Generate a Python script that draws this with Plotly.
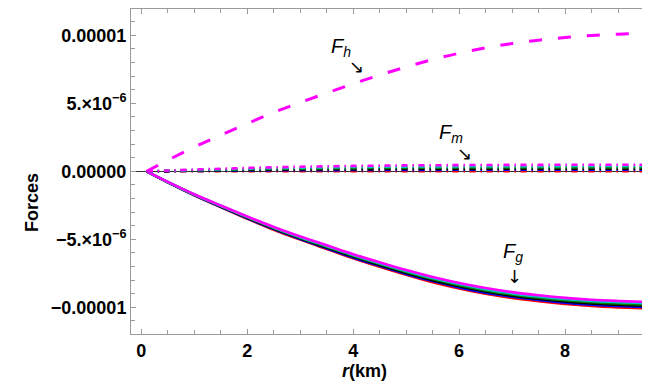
import plotly.graph_objects as go

# radial grid (km)
r = [0.1, 0.5, 1.0, 1.5, 2.0, 2.5, 3.0, 3.5, 4.0, 4.5, 5.0, 5.5, 6.0, 6.5, 7.0,
     7.5, 8.0, 8.5, 9.0, 9.5, 9.55]

colors = ["red", "blue", "black", "#008000", "#00c8c8", "#ff00ff"]

# hydrostatic force (x 1e-6)
fh = [0, 0.82, 1.78, 2.66, 3.51, 4.33, 5.07, 5.76, 6.44, 7.08, 7.68, 8.22, 8.69,
      9.08, 9.40, 9.65, 9.84, 9.99, 10.09, 10.16, 10.17]

# gravitational force, one list per colour (x 1e-6)
fg_red = [0, -0.81, -1.76, -2.63, -3.48, -4.29, -5.02, -5.71, -6.39, -7.02, -7.61,
          -8.15, -8.61, -9.00, -9.31, -9.55, -9.75, -9.90, -10.00, -10.07, -10.08]
fg_blue = [0, -0.80, -1.74, -2.61, -3.45, -4.25, -4.97, -5.66, -6.33, -6.95, -7.54,
           -8.07, -8.53, -8.92, -9.22, -9.46, -9.66, -9.81, -9.90, -9.98, -9.99]
fg_black = [0, -0.79, -1.73, -2.58, -3.42, -4.21, -4.93, -5.60, -6.27, -6.89, -7.47,
            -8.00, -8.45, -8.83, -9.14, -9.37, -9.57, -9.72, -9.81, -9.88, -9.89]
fg_green = [0, -0.79, -1.71, -2.56, -3.38, -4.17, -4.88, -5.55, -6.21, -6.82, -7.40,
            -7.92, -8.37, -8.75, -9.05, -9.29, -9.48, -9.62, -9.72, -9.79, -9.80]
fg_cyan = [0, -0.78, -1.70, -2.53, -3.35, -4.13, -4.84, -5.49, -6.15, -6.76, -7.33,
           -7.85, -8.29, -8.66, -8.97, -9.20, -9.39, -9.53, -9.62, -9.69, -9.70]
fg_magenta = [0, -0.77, -1.68, -2.51, -3.32, -4.09, -4.79, -5.44, -6.09, -6.69, -7.26,
              -7.77, -8.21, -8.58, -8.88, -9.11, -9.30, -9.44, -9.53, -9.60, -9.61]

# anisotropic / electric force, one list per colour (x 1e-6)
fm_red = [0, 0.00, 0.01, 0.01, 0.01, 0.02, 0.02, 0.02, 0.02, 0.02, 0.02,
          0.02, 0.02, 0.02, 0.02, 0.02, 0.02, 0.02, 0.02, 0.02, 0.02]
fm_blue = [0, 0.02, 0.03, 0.05, 0.06, 0.08, 0.09, 0.09, 0.10, 0.11, 0.11,
           0.11, 0.12, 0.12, 0.12, 0.12, 0.12, 0.12, 0.12, 0.12, 0.12]
fm_black = [0, 0.02, 0.05, 0.08, 0.10, 0.12, 0.14, 0.15, 0.16, 0.17, 0.18,
            0.18, 0.18, 0.19, 0.19, 0.19, 0.19, 0.20, 0.20, 0.20, 0.20]
fm_green = [0, 0.04, 0.08, 0.11, 0.15, 0.18, 0.20, 0.22, 0.24, 0.25, 0.26,
            0.27, 0.28, 0.28, 0.29, 0.29, 0.29, 0.29, 0.29, 0.29, 0.29]
fm_cyan = [0, 0.05, 0.10, 0.15, 0.20, 0.24, 0.27, 0.30, 0.32, 0.34, 0.35,
           0.36, 0.37, 0.38, 0.38, 0.38, 0.39, 0.39, 0.39, 0.39, 0.39]
fm_magenta = [0, 0.06, 0.13, 0.19, 0.25, 0.30, 0.34, 0.37, 0.40, 0.42, 0.44,
              0.45, 0.46, 0.47, 0.475, 0.48, 0.485, 0.49, 0.49, 0.49, 0.49]

fg_all = [fg_red, fg_blue, fg_black, fg_green, fg_cyan, fg_magenta]
fm_all = [fm_red, fm_blue, fm_black, fm_green, fm_cyan, fm_magenta]

ytick_vals = [-1e-5, -5e-6, 0, 5e-6, 1e-5]
ytick_text = ["\u22120.00001", "\u22125.\u00d710<sup>\u22126</sup>", "0.00000",
              "5.\u00d710<sup>\u22126</sup>", "0.00001"]

fig = go.Figure()

sc = 1e-6
for c, ys in zip(colors, fg_all):
    fig.add_trace(go.Scatter(x=r, y=[v * sc for v in ys], mode="lines",
                             line=dict(color=c, width=2.6, shape="spline"),
                             showlegend=False))
for c, ys in zip(colors, fm_all):
    fig.add_trace(go.Scatter(x=r, y=[v * sc for v in ys], mode="lines",
                             line=dict(color=c, width=2.6, shape="spline",
                                       dash="6px,5px,1.5px,4.5px"),
                             showlegend=False))
fig.add_trace(go.Scatter(x=r, y=[v * sc for v in fh], mode="lines",
                         line=dict(color="#ff00ff", width=3, shape="spline",
                                   dash="13px,16px"),
                         showlegend=False))

lab = dict(family="Liberation Sans, Arial", size=18, color="black")
flab = dict(family="Liberation Sans, Arial", size=20, color="black")
arr = dict(family="DejaVu Sans", size=18, color="black")
notes = [
    (3.77, 9.14e-6, "<i>F</i><sub><i>h</i></sub>", flab),
    (4.07, 7.7e-6, "\u2198", arr),
    (5.85, 2.8e-6, "<i>F</i><sub><i>m</i></sub>", flab),
    (6.1, 1.3e-6, "\u2198", arr),
    (7.02, -6.0e-6, "<i>F</i><sub><i>g</i></sub>", flab),
    (7.04, -7.75e-6, "\u2193", arr),
]
for x, y, t, f in notes:
    fig.add_annotation(x=x, y=y, text=t, showarrow=False, font=f)

# axis titles placed by hand
fig.add_annotation(xref="paper", yref="paper", x=-0.2126, y=0.403, text="<b>Forces</b>",
                   textangle=-90, showarrow=False, font=lab)
fig.add_annotation(xref="paper", yref="paper", x=0.448, y=-0.151,
                   text="<b><i>r</i>(km)</b>", showarrow=False, font=lab)

axis_common = dict(showline=True, linecolor="#9a9a9a", linewidth=1, mirror="ticks",
                   ticks="inside", ticklen=5, tickcolor="#9a9a9a", showgrid=False,
                   automargin=False,
                   tickfont=dict(family="Liberation Sans, Arial", size=18, color="black"))

fig.update_xaxes(range=[-0.194, 9.66], tickvals=[0, 2, 4, 6, 8],
                 ticktext=["<b>0</b>", "<b>2</b>", "<b>4</b>", "<b>6</b>", "<b>8</b>"],
                 zeroline=False,
                 minor=dict(dtick=0.5, ticklen=4, tickcolor="#9a9a9a", ticks="inside"),
                 **axis_common)
fig.update_yaxes(range=[-1.196e-5, 1.194e-5], tickvals=ytick_vals,
                 ticktext=["<b>" + t + "</b>" for t in ytick_text],
                 zeroline=True, zerolinecolor="#333333", zerolinewidth=1,
                 minor=dict(dtick=1e-6, ticklen=4, tickcolor="#9a9a9a", ticks="inside"),
                 **axis_common)

fig.update_layout(width=650, height=385, margin=dict(l=123, r=5, t=1, b=59),
                  plot_bgcolor="white", paper_bgcolor="white")

fig.write_html("out.html")
